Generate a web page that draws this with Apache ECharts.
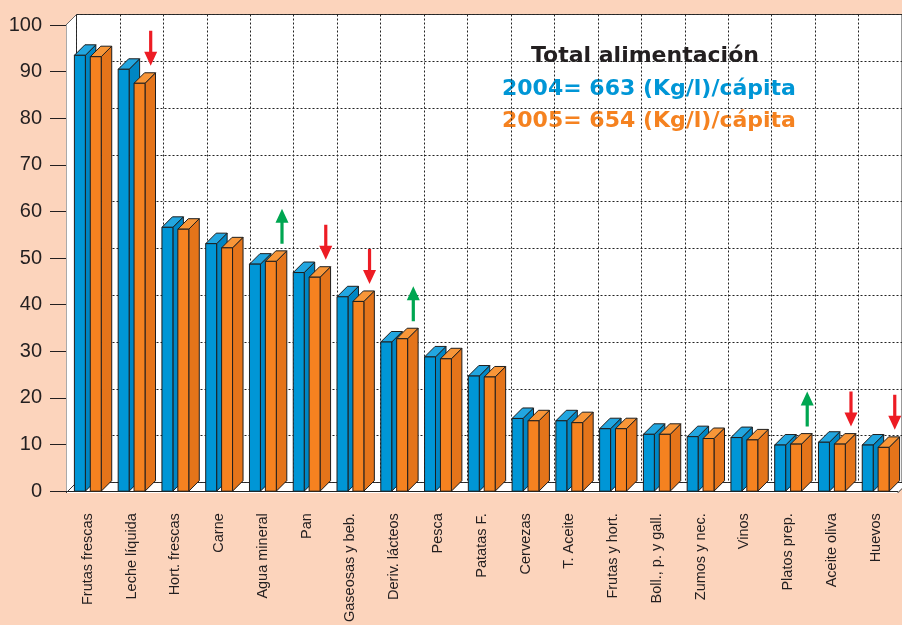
<!DOCTYPE html>
<html>
<head>
<meta charset="utf-8">
<script src="https://cdn.jsdelivr.net/npm/echarts@6/dist/echarts.min.js"></script>
<style>
  html, body { margin: 0; padding: 0; background: #fcd4bc; }
  #chart { width: 902px; height: 625px; }
</style>
</head>
<body>
<div id="chart"></div>
<script>
const categories = ['Frutas frescas', 'Leche líquida', 'Hort. frescas', 'Carne', 'Agua mineral', 'Pan',
  'Gaseosas y beb.', 'Deriv. lácteos', 'Pesca', 'Patatas F.', 'Cervezas', 'T. Aceite', 'Frutas y hort.',
  'Boll., p. y gall.', 'Zumos y nec.', 'Vinos', 'Platos prep.', 'Aceite oliva', 'Huevos']
const values2004 = [93.5, 90.5, 56.6, 53.1, 48.7, 46.9, 41.7, 32.0, 28.8, 24.7, 15.6, 15.1, 13.4, 12.2, 11.7, 11.5, 9.9, 10.5, 9.9]
const values2005 = [93.2, 87.5, 56.2, 52.2, 49.3, 45.9, 40.7, 32.7, 28.4, 24.5, 15.1, 14.7, 13.4, 12.2, 11.3, 11.0, 10.1, 10.1, 9.4]
// flechas de tendencia sobre la barra 2005
const trend = [null, 'down', null, null, 'up', 'down', 'down', 'up', null, null, null, null, null, null, null, null, 'up', 'down', 'down']
const years = ['2004', '2005']
const totals = [663, 654]
const yTicks = [0, 100, 10] // min, max, intervalo

// layout (pixeles)
const FL = 66, FT = 25, FW = 831.6, FH = 468
const DX = 10.5, DY = 10.5

const BLUE = { front: '#0096d6', side: '#0086c4', top: '#22a6e0' }
const ORANGE = { front: '#f58220', side: '#e4741a', top: '#f89638' }
const INK = '#231f20'

function bar3d(offset, c) {
  return function (params, api) {
    const cat = api.value(0)
    const top = api.coord([cat, api.value(1)])
    const base = api.coord([cat, 0])
    const bw = api.size([1, 0])[0]
    const w = bw * 0.25
    const x = top[0] + offset * bw - w / 2
    const line = { stroke: '#1e1e1e', lineWidth: 1 }
    return {
      type: 'group',
      children: [
        {
          type: 'polygon',
          shape: { points: [[x + w, top[1]], [x + w + DX, top[1] - DY], [x + w + DX, base[1] - DY], [x + w, base[1]]] },
          style: Object.assign({ fill: c.side }, line)
        },
        {
          type: 'polygon',
          shape: { points: [[x, top[1]], [x + DX, top[1] - DY], [x + w + DX, top[1] - DY], [x + w, top[1]]] },
          style: Object.assign({ fill: c.top }, line)
        },
        {
          type: 'rect',
          shape: { x: x, y: top[1], width: w, height: base[1] - top[1] },
          style: Object.assign({ fill: c.front }, line)
        }
      ]
    }
  }
}

function arrowItem(params, api) {
  const cat = api.value(0)
  const dir = api.value(2)
  const p = api.coord([cat, api.value(1)])
  const bw = api.size([1, 0])[0]
  const x = p[0] + 0.435 * bw
  const yb = p[1] - DY - 7
  const L = 35, H = 14, s = 1.6, h = 6.5
  let pts
  if (dir < 0) {
    pts = [[x - s, yb - L], [x + s, yb - L], [x + s, yb - H], [x + h, yb - H], [x, yb], [x - h, yb - H], [x - s, yb - H]]
  } else {
    pts = [[x, yb - L], [x + h, yb - L + H], [x + s, yb - L + H], [x + s, yb], [x - s, yb], [x - s, yb - L + H], [x - h, yb - L + H]]
  }
  return { type: 'polygon', shape: { points: pts }, style: { fill: dir < 0 ? '#ed1c24' : '#00a651' } }
}

const arrowData = []
trend.forEach((t, i) => {
  if (t) arrowData.push([i, values2005[i], t === 'up' ? 1 : -1])
})

const chart = echarts.init(document.getElementById('chart'))
chart.setOption({
  animation: false,
  backgroundColor: '#fcd4bc',
  graphic: [
    {
      type: 'polygon', z: -10, silent: true,
      shape: { points: [[FL, FT + FH], [FL, FT], [FL + DX, FT - DY], [FL + DX + FW, FT - DY], [FL + DX + FW, FT + FH - DY], [FL + FW, FT + FH]] },
      style: { fill: '#fff' }
    },
    { type: 'polyline', z: 1, silent: true, shape: { points: [[FL, FT], [FL + DX, FT - DY]] }, style: { stroke: '#666', lineWidth: 1 } },
    { type: 'polyline', z: 1, silent: true, shape: { points: [[FL, FT + FH], [FL + DX, FT + FH - DY]] }, style: { stroke: '#333', lineWidth: 1 } },
    { type: 'polyline', z: 1, silent: true, shape: { points: [[FL + FW, FT + FH], [FL + FW + DX, FT + FH - DY]] }, style: { stroke: '#333', lineWidth: 1 } },
    {
      type: 'text', left: 649 - 118, top: 58 - 13,
      style: { text: 'Total alimentación', fill: INK, font: 'bold 22px "DejaVu Sans"' }
    },
    {
      type: 'text', left: 649 - 147, top: 91 - 13,
      style: { text: years[0] + '= ' + totals[0] + ' (Kg/l)/cápita', fill: BLUE.front, font: 'bold 22px "DejaVu Sans"' }
    },
    {
      type: 'text', left: 649 - 147, top: 123 - 13,
      style: { text: years[1] + '= ' + totals[1] + ' (Kg/l)/cápita', fill: ORANGE.front, font: 'bold 22px "DejaVu Sans"' }
    }
  ],
  grid: [
    { left: FL, top: FT, width: FW, height: FH, containLabel: false },
    { left: FL + DX, top: FT - DY, width: FW, height: FH, show: true, backgroundColor: 'transparent', borderColor: '#333', borderWidth: 1 }
  ],
  xAxis: [
    {
      type: 'category', gridIndex: 0, data: categories,
      axisLine: { lineStyle: { color: '#222', width: 1.2 } },
      axisTick: { interval: 0, length: 15, lineStyle: { color: '#555' } },
      axisLabel: { interval: 0, rotate: 90, margin: 22, fontSize: 14.5, color: INK, fontFamily: '"Liberation Sans", Arial' },
      splitLine: { show: false }
    },
    {
      type: 'category', gridIndex: 1, data: categories,
      axisLine: { show: false }, axisTick: { show: false }, axisLabel: { show: false },
      splitLine: { show: true, interval: 0, lineStyle: { color: '#222', type: [2, 2], width: 1 } }
    }
  ],
  yAxis: [
    {
      type: 'value', gridIndex: 0, min: yTicks[0], max: yTicks[1], interval: yTicks[2],
      axisLine: { show: true, lineStyle: { color: '#aaa' } },
      axisTick: { show: true, length: 16, lineStyle: { color: INK } },
      axisLabel: { margin: 24, fontSize: 20, color: INK, fontFamily: '"Liberation Sans", Arial' },
      splitLine: { show: false }
    },
    {
      type: 'value', gridIndex: 1, min: yTicks[0], max: yTicks[1], interval: yTicks[2],
      axisLine: { show: false }, axisTick: { show: false }, axisLabel: { show: false },
      splitLine: { show: true, lineStyle: { color: '#222', type: [2, 2], width: 1 } }
    }
  ],
  series: [
    {
      name: years[0], type: 'custom', xAxisIndex: 0, yAxisIndex: 0, clip: false,
      renderItem: bar3d(-0.183, BLUE),
      data: values2004.map((v, i) => [i, v])
    },
    {
      name: years[1], type: 'custom', xAxisIndex: 0, yAxisIndex: 0, clip: false,
      renderItem: bar3d(0.18, ORANGE),
      data: values2005.map((v, i) => [i, v])
    },
    {
      name: 'tendencia', type: 'custom', xAxisIndex: 0, yAxisIndex: 0, clip: false,
      renderItem: arrowItem,
      data: arrowData
    }
  ]
})
</script>
</body>
</html>
